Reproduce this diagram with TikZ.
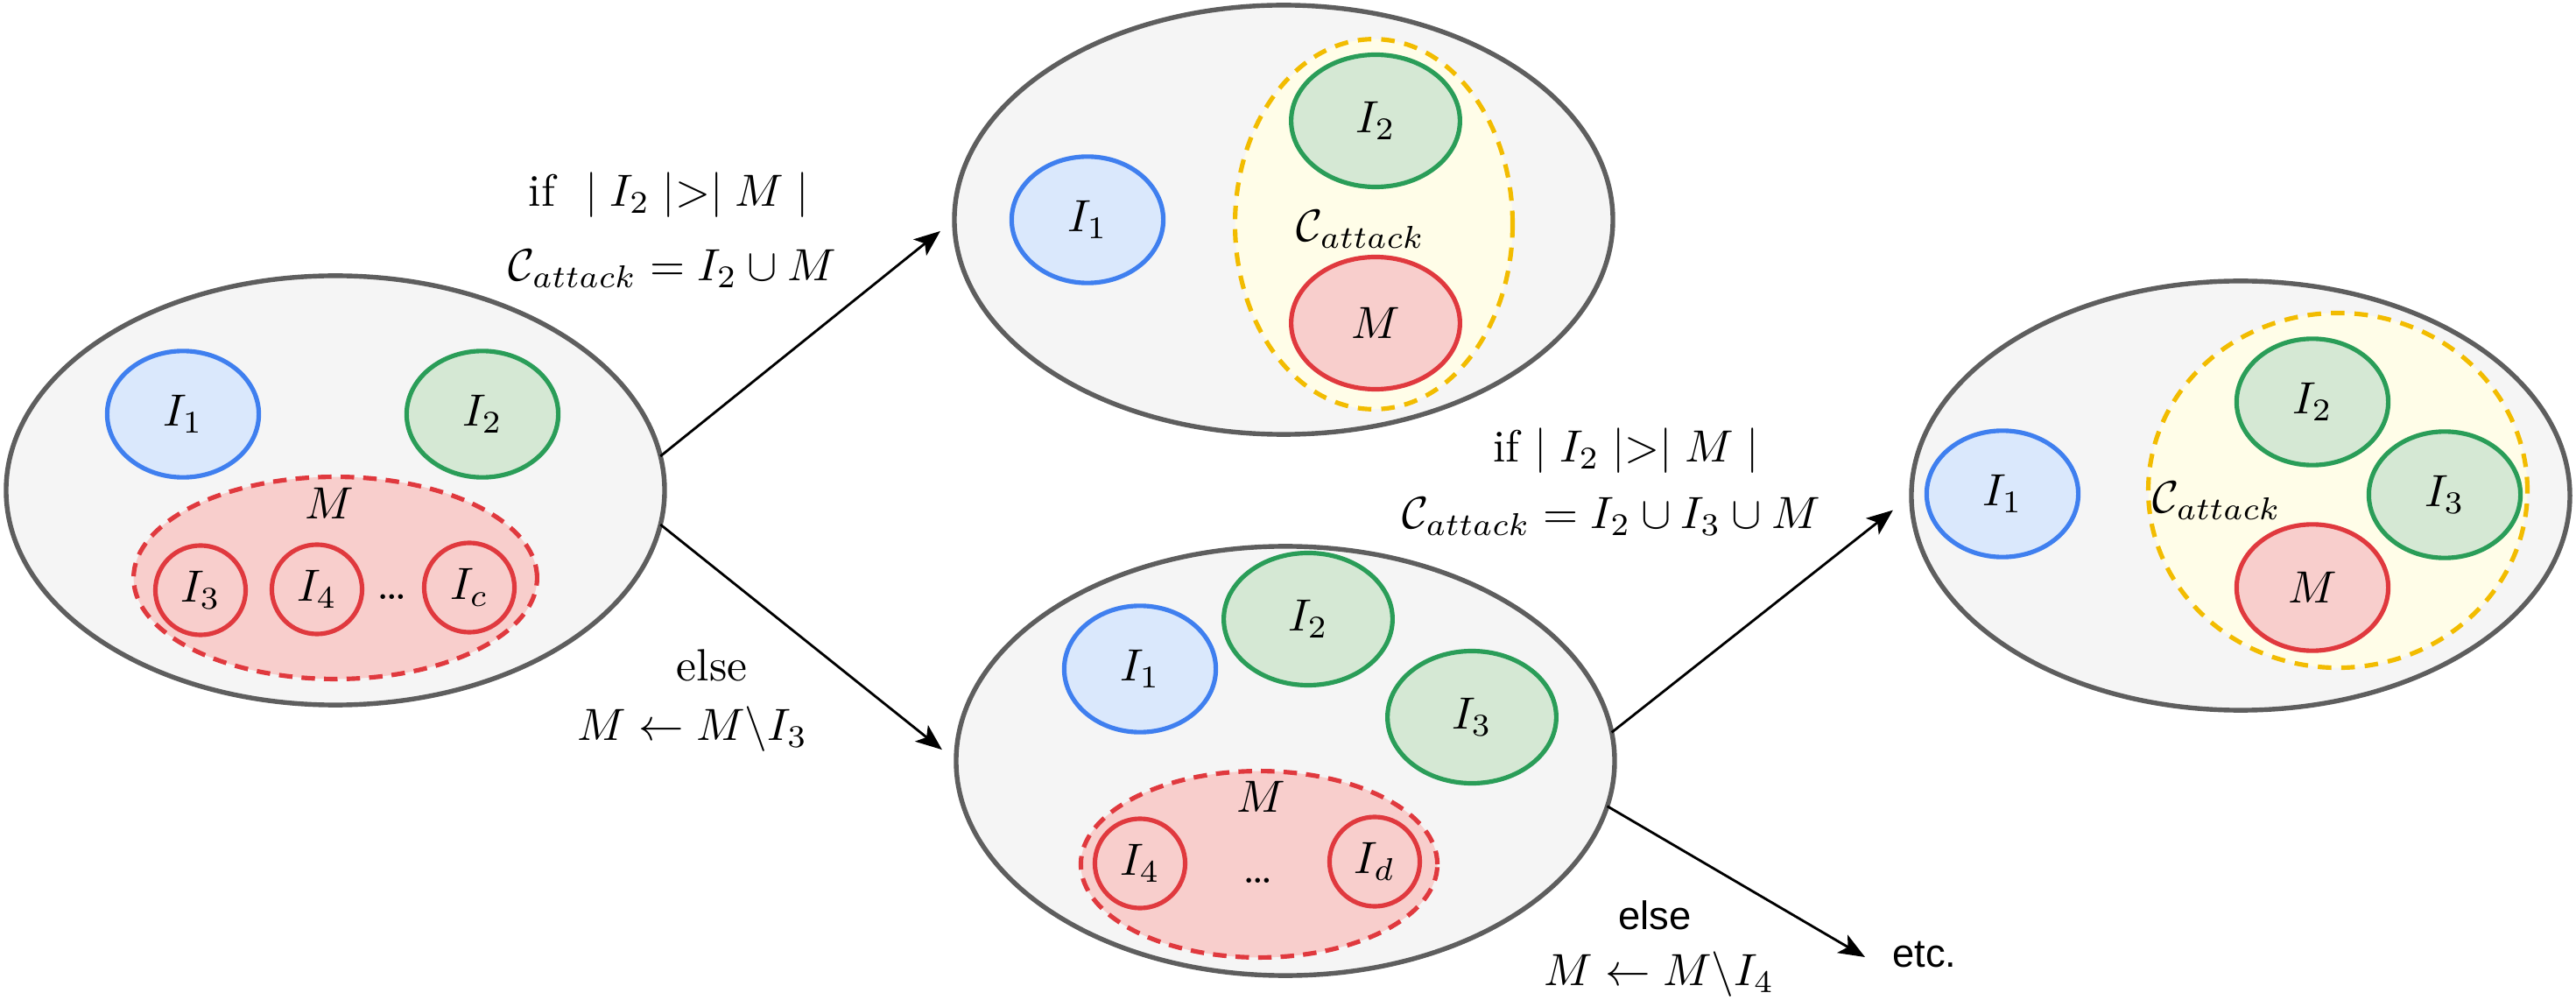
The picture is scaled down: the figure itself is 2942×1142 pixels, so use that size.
\documentclass[tikz,border=0pt]{standalone}
\usepackage{fontspec}
\newfontfamily\arialfont{Liberation Sans}
\usetikzlibrary{shapes.geometric,arrows.meta}
\definecolor{bigfill}{HTML}{F5F5F5}
\definecolor{bigdraw}{HTML}{5E5E5E}
\definecolor{bluefill}{HTML}{DAE8FC}
\definecolor{bluedraw}{HTML}{3F7FEF}
\definecolor{greenfill}{HTML}{D5E8D4}
\definecolor{greendraw}{HTML}{2A9D58}
\definecolor{redfill}{HTML}{F8CECC}
\definecolor{reddraw}{HTML}{E0393E}
\definecolor{yelfill}{HTML}{FFFDE8}
\definecolor{yeldraw}{HTML}{F2BC00}
\begin{document}
\begin{tikzpicture}[x=0.194pt,y=-0.194pt,
  every node/.style={inner sep=0pt, outer sep=0pt},
  bigell/.style={ellipse, draw=bigdraw, fill=bigfill, line width=1.05pt,
    minimum width=145.9pt, minimum height=95.1pt},
  setA/.style={ellipse, minimum width=33.6pt, minimum height=28pt},
  setB/.style={ellipse, minimum width=37.4pt, minimum height=29.3pt},
  setT/.style={ellipse, minimum width=20pt, minimum height=19.8pt},
  bluec/.style={draw=bluedraw, fill=bluefill, line width=1pt},
  greenc/.style={draw=greendraw, fill=greenfill, line width=1pt},
  redc/.style={draw=reddraw, fill=redfill, line width=1pt},
  redgroup/.style={ellipse, draw=reddraw, fill=redfill, line width=1pt,
    dash pattern=on 3pt off 2pt},
  yelgroup/.style={ellipse, draw=yeldraw, fill=yelfill, line width=1pt,
    dash pattern=on 3pt off 2.2pt},
  lab/.style={font=\normalsize},
  sanslab/.style={font=\arialfont\fontsize{8.8}{10}\selectfont},
  arr/.style={-{Stealth[length=5.8pt,width=4.6pt,inset=1.4pt]}, line width=0.55pt, black}
]
\useasboundingbox (0,0) rectangle (2942,1142);

% ---------- ellipse 1 (left) ----------
\node[bigell] (e1) at (383,560) {};
\node[setA,bluec] (a1) at (209,473) {$I_1$};
\node[setA,greenc] (a2) at (551,473) {$I_2$};
\node[redgroup, minimum width=89.4pt, minimum height=44.8pt] (am) at (383,660) {};
\node[lab] (amlab) at (376,575) {$M$};
\node[setT,redc] (a3) at (229,674) {$I_3$};
\node[setT,redc] (a4) at (362,673) {$I_4$};
\node[lab] (adots) at (448,682) {\dots};
\node[setT,redc] (ac) at (536,671) {$I_c$};

% ---------- ellipse 2 (top middle) ----------
\node[bigell] (e2) at (1466,251) {};
\node[setA,bluec] (b1) at (1242,251) {$I_1$};
\node[yelgroup, minimum width=61.5pt, minimum height=82pt] (bc) at (1569,256) {};
\node[setB,greenc] (b2) at (1571,138) {$I_2$};
\node[setB,redc] (bm) at (1571,369) {$M$};
\node[lab] (bclab) at (1554,262) {$\mathcal{C}_{attack}$};

% ---------- ellipse 3 (bottom middle) ----------
\node[bigell] (e3) at (1468,869) {};
\node[setA,bluec] (c1) at (1302,764) {$I_1$};
\node[setB,greenc] (c2) at (1494,707) {$I_2$};
\node[setB,greenc] (c3) at (1681,819) {$I_3$};
\node[redgroup, minimum width=79pt, minimum height=41.3pt] (cm) at (1438,987) {};
\node[lab] (cmlab) at (1440,910) {$M$};
\node[setT,redc] (c4) at (1302,986) {$I_4$};
\node[lab] (cdots) at (1437,1006) {\dots};
\node[setT,redc] (cd) at (1570,984) {$I_d$};

% ---------- ellipse 4 (right) ----------
\node[bigell] (e4) at (2559,566) {};
\node[setA,bluec] (d1) at (2287,564) {$I_1$};
\node[yelgroup, minimum width=84pt, minimum height=78.6pt] (dc) at (2670,560) {};
\node[setA,greenc] (d2) at (2641,459) {$I_2$};
\node[setA,greenc] (d3) at (2792,565) {$I_3$};
\node[setA,redc] (dm) at (2641,671) {$M$};
\node[lab] (dclab) at (2532,572) {$\mathcal{C}_{attack}$};

% ---------- labels ----------
\node[lab] (l1a) at (764,223) {if~~$\mid I_2\mid>\mid M\mid$};
\node[lab] (l1b) at (768,307) {$\mathcal{C}_{attack}=I_2\cup M$};
\node[lab] (l2a) at (813,760) {else};
\node[lab] (l2b) at (791,833) {$M\leftarrow M\backslash I_3$};
\node[lab] (l3a) at (1857,515) {if $\mid I_2\mid>\mid M\mid$};
\node[lab] (l3b) at (1840,590) {$\mathcal{C}_{attack}=I_2\cup I_3\cup M$};
\node[sanslab] (l4a) at (1890,1045) {else};
\node[lab] (l4b) at (1895,1113) {$M\leftarrow M\backslash I_4$};
\node[sanslab] (etc) at (2198,1090) {etc.};
\coordinate (etcend) at (2130,1093);

% ---------- arrows ----------
\draw[arr, shorten >=4pt] (e1.6) -- (e2.west);
\draw[arr, shorten >=4pt] (e1.-6) -- (e3.west);
\draw[arr, shorten >=5.2pt] (e3.5) -- (e4.west);
\draw[arr] (e3.-8) -- (etcend);
\end{tikzpicture}
\end{document}
